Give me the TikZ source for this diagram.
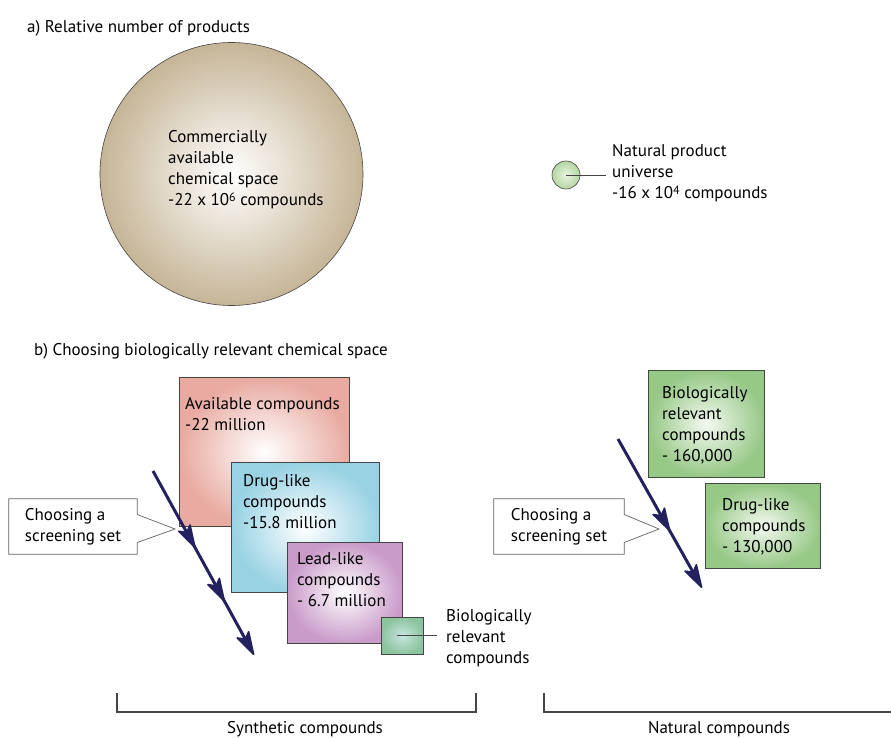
\documentclass[tikz,border=0pt]{standalone}
\usepackage{fontspec}
\setmainfont{PT Sans}
\usetikzlibrary{positioning,calc}
\definecolor{cstan}{HTML}{C6B597}
\definecolor{cspink}{HTML}{E8AAA1}
\definecolor{csblue}{HTML}{98D2E3}
\definecolor{cspurple}{HTML}{C99BC9}
\definecolor{csmint}{HTML}{8CC49D}
\definecolor{csgreen}{HTML}{96C886}
\definecolor{csleaf}{HTML}{B3D7A1}
\definecolor{csnavy}{HTML}{23215E}
\definecolor{csgray}{HTML}{454545}
\newcommand{\powr}[1]{\raisebox{0.5ex}{\fontsize{12}{12}\selectfont #1}}

\begin{document}
\begin{tikzpicture}[
    x=1pt,
    y=1pt,
    font=\fontsize{17}{21}\selectfont,
    spacebox/.style={rectangle, draw=csgray, line width=0.8pt, inner sep=0pt, anchor=north west},
    boxtxt/.style={inner sep=0pt, align=left},
    callout/.style={rectangle, minimum width=128pt, minimum height=55pt, align=left, inner sep=0pt},
    calloutline/.style={draw=csgray!85, line width=0.7pt},
    screenline/.style={draw=csnavy, line width=3pt, shorten >=12pt},
    screenhead/.style={draw=csnavy, fill=csnavy, line width=1.6pt, line join=round},
    leader/.style={draw=csgray, line width=0.9pt},
    brk/.style={draw=csgray, line width=1.3pt}
  ]
    \useasboundingbox (0,0) rectangle (891,-738);

    % a) relative number of products
    \node[boxtxt, anchor=north west] (titleA) at (27,-20) {a) Relative number of products};
    \node[circle, draw=csgray, line width=0.6pt, minimum size=263pt, inner color=white, outer color=cstan] (cspace) at (231.5,-174) {};
    \node[boxtxt, anchor=north west] (cspacetxt) at (168,-130) {Commercially\\available\\chemical space\\-22 x 10\powr{6} compounds};

    \node[circle, draw=csgray, line width=0.6pt, minimum size=28pt, inner color=white!70!csleaf, outer color=csleaf] (npu) at (566,-175) {};
    \node[boxtxt, anchor=north west] (nputxt) at (612,-144) {Natural product\\universe\\-16 x 10\powr{4} compounds};
    \draw[leader] (npu.center) -- (npu.center -| nputxt.west) [shorten >=6pt];

    % b) choosing biologically relevant chemical space
    \node[boxtxt, anchor=north west] (titleB) at (34,-343) {b) Choosing biologically relevant chemical space};

    \node[spacebox, minimum width=170pt, minimum height=149pt, inner color=white, outer color=cspink] (avail) at (179,-377) {};
    \node[boxtxt, below right=20pt and 6pt of avail.north west] (availtxt) {Available compounds\\-22 million};
    \node[spacebox, minimum width=148pt, minimum height=130pt, inner color=white, outer color=csblue] (drug) at (231,-462) {};
    \node[boxtxt, below right=12pt and 12pt of drug.north west] (drugtxt) {Drug-like\\compounds\\-15.8 million};
    \node[spacebox, minimum width=115pt, minimum height=101pt, inner color=white, outer color=cspurple] (lead) at (287,-542) {};
    \node[boxtxt, below right=10pt and 10pt of lead.north west] (leadtxt) {Lead-like\\compounds\\- 6.7 million};
    \node[spacebox, minimum width=42pt, minimum height=37pt, inner color=white!60!csblue!80!csmint, outer color=csmint] (bio) at (381,-617) {};
    \node[boxtxt, anchor=north west] (biotxt) at (446,-609) {Biologically\\relevant\\compounds};
    \draw[leader] ($(bio.center)+(-5,0)$) -- (bio.center -| biotxt.west) [shorten >=9pt];

    \node[spacebox, minimum width=116pt, minimum height=107pt, inner color=white!85!csleaf, outer color=csgreen] (natbio) at (648,-370) {};
    \node[boxtxt, below right=16pt and 14pt of natbio.north west] (natbiotxt) {Biologically\\relevant\\compounds\\- 160,000};
    \node[spacebox, minimum width=115pt, minimum height=85pt, inner color=white!85!csleaf, outer color=csgreen] (natdrug) at (705,-483) {};
    \node[boxtxt, below right=15pt and 17pt of natdrug.north west] (natdrugtxt) {Drug-like\\compounds\\- 130,000};

    % callouts
    \node[callout] (pickL) at (73,-526.5) {Choosing a\\screening set};
    \coordinate (tipL) at (175,-529);
    \draw[calloutline] ($(pickL.east)+(0,12)$) -- (pickL.north east) -- (pickL.north west) -- (pickL.south west) -- (pickL.south east) -- ($(pickL.east)+(0,-16)$) -- (tipL) -- cycle;

    \node[callout, minimum width=130pt] (pickR) at (559,-526.5) {Choosing a\\screening set};
    \coordinate (tipR) at (659,-529);
    \draw[calloutline] ($(pickR.east)+(0,12)$) -- (pickR.north east) -- (pickR.north west) -- (pickR.south west) -- (pickR.south east) -- ($(pickR.east)+(0,-16)$) -- (tipR) -- cycle;

    % screening arrows
    \coordinate (aL0) at (153,-471);
    \coordinate (aL3) at (254,-655);
    \coordinate (aL1) at ($(aL0)!0.42!(aL3)$);
    \coordinate (aL2) at ($(aL0)!0.71!(aL3)$);
    \coordinate (aR0) at (618,-439);
    \coordinate (aR2) at (702,-588);
    \coordinate (aR1) at ($(aR0)!0.62!(aR2)$);
    \draw[screenline] (aL0) -- (aL3);
    \draw[screenline] (aR0) -- (aR2);
    \foreach \headpt/\headfrom in {aL1/aL0, aL2/aL0, aL3/aL0, aR1/aR0, aR2/aR0} {
      \filldraw[screenhead] ($(\headpt)!0.8pt!(\headfrom)$) -- ($(\headpt)!23pt!(\headfrom)!6.5pt!90:(\headpt)$) -- ($(\headpt)!18pt!(\headfrom)$) -- ($(\headpt)!23pt!(\headfrom)!6.5pt!-90:(\headpt)$) -- cycle;
    }

    % brackets
    \coordinate (synL) at (117,-693);
    \coordinate (synR) at (476,-693);
    \draw[brk] (synL) -- ++(0,-19) -| (synR);
    \node[anchor=north, inner sep=0pt] (synlab) at (305,-721) {Synthetic compounds};

    \coordinate (natL) at (544,-693);
    \coordinate (natR) at (891,-712);
    \draw[brk] (natL) |- (natR);
    \node[anchor=north, inner sep=0pt] (natlab) at (719,-721) {Natural compounds};
\end{tikzpicture}
\end{document}
